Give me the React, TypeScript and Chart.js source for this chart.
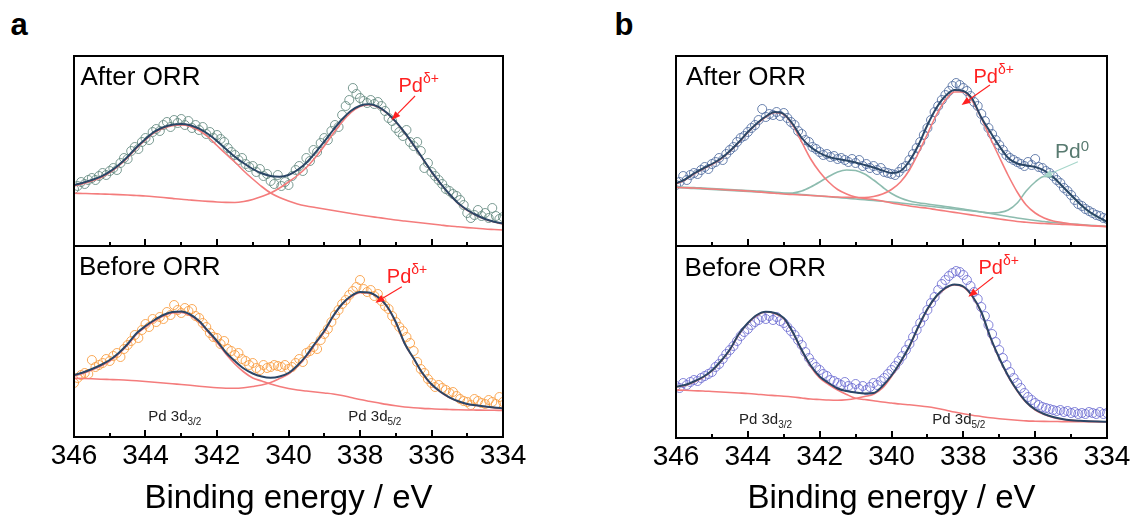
import React, { useEffect, useRef } from 'react';
import { Chart, registerables } from 'chart.js';

Chart.register(...registerables);

const FONT = '"Liberation Sans", Arial, Helvetica, sans-serif';

// ---------- shared x values (binding energy, eV) ----------
const curveEnergy = [
  346, 345.75, 345.5, 345.25, 345, 344.75, 344.5, 344.25, 344, 343.75,
  343.5, 343.25, 343, 342.75, 342.5, 342.25, 342, 341.75, 341.5, 341.25,
  341, 340.75, 340.5, 340.25, 340, 339.75, 339.5, 339.25, 339, 338.75,
  338.5, 338.25, 338, 337.75, 337.5, 337.25, 337, 336.75, 336.5, 336.25,
  336, 335.75, 335.5, 335.25, 335, 334.75, 334.5, 334.25, 334,
];
const scatterEnergy = [
  346.0, 345.9, 345.8, 345.7, 345.6, 345.5, 345.4, 345.3, 345.2, 345.1,
  345.0, 344.9, 344.8, 344.7, 344.6, 344.5, 344.4, 344.3, 344.2, 344.1,
  344.0, 343.9, 343.8, 343.7, 343.6, 343.5, 343.4, 343.3, 343.2, 343.1,
  343.0, 342.9, 342.8, 342.7, 342.6, 342.5, 342.4, 342.3, 342.2, 342.1,
  342.0, 341.9, 341.8, 341.7, 341.6, 341.5, 341.4, 341.3, 341.2, 341.1,
  341.0, 340.9, 340.8, 340.7, 340.6, 340.5, 340.4, 340.3, 340.2, 340.1,
  340.0, 339.9, 339.8, 339.7, 339.6, 339.5, 339.4, 339.3, 339.2, 339.1,
  339.0, 338.9, 338.8, 338.7, 338.6, 338.5, 338.4, 338.3, 338.2, 338.1,
  338.0, 337.9, 337.8, 337.7, 337.6, 337.5, 337.4, 337.3, 337.2, 337.1,
  337.0, 336.9, 336.8, 336.7, 336.6, 336.5, 336.4, 336.3, 336.2, 336.1,
  336.0, 335.9, 335.8, 335.7, 335.6, 335.5, 335.4, 335.3, 335.2, 335.1,
  335.0, 334.9, 334.8, 334.7, 334.6, 334.5, 334.4, 334.3, 334.2, 334.1,
  334.0,
];
const majorTicks = [346, 344, 342, 340, 338, 336, 334];
const minorTicks = [345, 343, 341, 339, 337, 335];

// ---------- panel a, After ORR ----------
const aAfterPoints = [
  57, 60, 64, 62, 66, 68, 66, 70, 73, 71,
  75, 78, 76, 83, 88, 87, 95, 99, 97, 104,
  108, 106, 114, 117, 115, 121, 124, 119, 126, 123,
  127, 121, 125, 118, 121, 116, 119, 112, 114, 108,
  111, 107, 104, 98, 94, 91, 86, 88, 82, 79,
  80, 74, 77, 70, 72, 65, 62, 71, 60, 64,
  61, 70, 76, 80, 75, 88, 85, 96, 94, 103,
  108, 106, 115, 121, 119, 131, 140, 146, 158, 152,
  148, 145, 143, 146, 142, 144, 140, 135, 128, 125,
  118, 114, 110, 116, 104, 100, 104, 95, 78, 83,
  74, 70, 66, 62, 57, 55, 52, 50, 46, 41,
  33, 28, 31, 36, 30, 33, 28, 38, 30, 27,
  29,
];
const aAfterFit = [
  61, 63.3, 66, 69.3, 74.3, 81, 89.3, 98.7, 107, 114.3,
  118.7, 121.3, 122, 120.7, 117.3, 112, 105, 97, 89.3, 82.7,
  77, 72.7, 70, 69.3, 71, 76, 83.3, 93.3, 104.3, 116,
  126.7, 135.3, 140.3, 141.7, 139.3, 133.3, 124.3, 113.3, 101, 87.7,
  74.3, 62.7, 52, 42.7, 36, 31, 27, 24.3, 22.3,
];
const aAfter3d32 = [
  60, 62.3, 65, 68.3, 73.3, 80, 88.3, 97.7, 106, 113.3,
  117.7, 120.3, 121, 119.5, 115.5, 109, 100.5, 92, 84, 75,
  67, 59.5, 53, 48.5, 45, 42, 40, 38.5, 37, 35.5,
  34, 32.5, 31, 29.7, 28.5, 27.3, 26, 25, 24, 23,
  22, 21, 20, 19.2, 18.4, 17.7, 17, 16.5, 16,
];
const aAfter3d52 = [
  52.7, 52.5, 52.3, 52, 51.7, 51.4, 51, 50.5, 50, 49.3,
  48.5, 47.6, 46.7, 46, 45.3, 44.6, 44, 43.6, 43.5, 44.5,
  46.5, 49.5, 53, 58, 64, 70.5, 78.5, 88.5, 100, 112.5,
  124, 133.5, 139.5, 141.3, 139, 133, 124, 113, 100.7, 87.4,
  74, 62.4, 51.7, 42.4, 35.7, 30.7, 26.7, 24, 22,
];

// ---------- panel a, Before ORR ----------
const aBeforePoints = [
  54, 59, 62, 64, 63, 77, 70, 72, 74, 78,
  76, 81, 84, 80, 88, 92, 96, 102, 99, 107,
  113, 110, 118, 115, 120, 118, 125, 122, 132, 127,
  124, 129, 126, 128, 121, 119, 114, 110, 104, 100,
  99, 93, 96, 88, 86, 82, 84, 78, 76, 72,
  74, 69, 67, 72, 69, 70, 72, 71, 70, 72,
  68, 70, 74, 78, 75, 84, 86, 90, 88, 97,
  103, 108, 115, 122, 127, 133, 137, 142, 146, 150,
  157, 148, 145, 147, 141, 143, 136, 131, 128, 121,
  115, 110, 106, 100, 94, 86, 75, 68, 64, 58,
  54, 50, 52, 49, 47, 44, 45, 41, 38, 36,
  35, 32, 38, 36, 34, 33, 37, 35, 33, 40,
  35,
];
const aBeforeFit = [
  62, 64.5, 68, 72, 77, 84, 93, 103.7, 111, 117,
  122, 125, 125.5, 122.5, 116, 106, 96, 84.5, 76, 68.5,
  63.5, 60.5, 59.3, 60.5, 64, 71.5, 81.5, 94, 106, 121,
  133, 141, 145, 144.5, 140, 131, 115, 93.5, 78.7, 63.7,
  52.7, 45.3, 39.7, 35.7, 33, 31.7, 30.5, 29.5, 28.7,
];
const aBefore3d32 = [
  61, 63.5, 67, 71, 76, 83, 92, 102.7, 110, 116,
  121, 124, 124.5, 121.5, 115, 105, 94.5, 83, 73, 65,
  59, 56, 53, 50.5, 48.5, 47, 46, 45, 44, 43,
  41.5, 39.5, 37.5, 35.8, 34.2, 32.6, 31.2, 30, 29.2, 28.6,
  28.2, 27.8, 27.5, 27.2, 27, 26.9, 26.8, 26.7, 26.6,
];
const aBefore3d52 = [
  58.7, 58.5, 58.2, 57.8, 57.5, 57.2, 56.8, 56.2, 55.5, 54.8,
  54, 53.2, 52.5, 51.7, 50.8, 50, 49.3, 48.8, 48.7, 49.3,
  50.5, 52, 54.5, 58.5, 63, 70.5, 80.5, 93, 105, 120.5,
  132.5, 140.2, 144.3, 144, 139.6, 130.5, 114.5, 93, 78.3, 63.3,
  52.3, 45, 39.5, 35.5, 32.8, 31.5, 30.3, 29.3, 28.5,
];

// ---------- panel b, After ORR ----------
const bAfterPoints = [
  61, 64, 70, 66, 71, 73, 72, 76, 79, 77,
  82, 84, 88, 86, 92, 96, 99, 104, 108, 110,
  114, 118, 121, 126, 137, 129, 132, 131, 134, 130,
  133, 128, 124, 121, 115, 112, 106, 104, 99, 97,
  94, 91, 92, 89, 90, 87, 88, 86, 84, 87,
  83, 86, 80, 82, 78, 80, 76, 78, 74, 73,
  72, 71, 74, 78, 80, 86, 92, 98, 104, 111,
  118, 126, 134, 140, 146, 151, 155, 160, 163, 161,
  158, 155, 150, 144, 140, 132, 125, 118, 112, 106,
  101, 96, 91, 88, 86, 84, 82, 80, 84, 81,
  87, 79, 78, 75, 73, 70, 66, 63, 58, 55,
  51, 46, 42, 40, 37, 35, 33, 31, 30, 28,
  27,
];
const bAfterFit = [
  62.7, 66.5, 72.5, 77.5, 82, 87.5, 95, 104, 114, 122.5,
  129.5, 134, 132, 122, 108, 99, 93, 89, 87, 85.5,
  83.5, 81, 78.5, 75.5, 73, 75, 85, 101, 121, 138,
  150, 156, 155, 147, 128.5, 114, 100, 88, 82.5, 80.5,
  79, 75.5, 69, 60, 51, 42, 34.5, 29, 24.3,
];
const bAfterPdd32 = [
  62, 66, 72, 77, 81.5, 87, 94.5, 103.5, 113.5, 122,
  129, 133.5, 131.5, 121, 104, 87, 74, 64, 56.5, 52,
  49, 47.5, 46.5, 45, 43, 41.5, 40, 38.8, 37.7, 36.3,
  35, 33.6, 32.3, 30.9, 29.5, 28.2, 27, 25.7, 24.5, 23.7,
  23, 22.5, 22, 21.6, 21.2, 20.7, 20.3, 19.8, 19.3,
];
const bAfterPdd52 = [
  58.7, 58.3, 58, 57.5, 57, 56.5, 56, 55.5, 55, 54.3,
  53.5, 52.8, 52, 51.5, 51, 50.5, 50, 49.5, 49, 48.7,
  48.5, 48.5, 49.5, 52, 56.5, 64, 76, 93, 112, 131,
  146, 154, 154, 145, 128, 108, 89, 70.5, 54, 41,
  33, 28, 25, 23.5, 22, 21.2, 20.5, 20, 19.5,
];
const bAfterPd0_32 = [
  58.5, 58, 57.5, 57, 56.5, 56, 55.5, 55, 54.5, 54,
  53.5, 53, 52.5, 53, 55, 59, 64, 69.5, 74, 76,
  75.5, 72, 66, 59, 52.5, 48, 45, 43.3, 42, 40.7,
  39.5, 38.2, 37, 35.5, 34, 32.5, 31, 29.5, 28, 26.7,
  25.5, 24.5, 23.5, 22.7, 22, 21.4, 20.8, 20.3, 19.8,
];
const bAfterPd0_52 = [
  59, 58.8, 58.5, 58, 57.5, 57, 56.5, 56, 55.5, 55,
  54.5, 53.8, 53, 52.3, 51.5, 50.8, 50, 49.3, 48.5, 47.8,
  47, 46.3, 45.5, 44.8, 44, 43, 42, 41, 40, 39,
  38, 37, 36, 35, 34, 33, 33.5, 36, 43, 55,
  64, 69.5, 68.5, 60, 50.5, 41.5, 34, 28.7, 24,
];

// ---------- panel b, Before ORR ----------
const bBeforePoints = [
  52, 50, 55, 53, 56, 58, 57, 60, 62, 64,
  66, 71, 74, 79, 84, 88, 92, 97, 102, 106,
  109, 113, 116, 118, 121, 119, 122, 118, 121, 117,
  115, 111, 107, 103, 98, 93, 86, 80, 75, 71,
  68, 64, 62, 58, 57, 55, 53, 56, 52, 50,
  54, 49, 52, 48, 51, 55, 53, 57, 60, 64,
  68, 72, 77, 82, 88, 94, 101, 108, 115, 121,
  128, 135, 141, 148, 154, 158, 162, 165, 167, 166,
  163, 158, 152, 146, 139, 131, 122, 113, 104, 96,
  88, 80, 73, 66, 60, 55, 50, 45, 41, 38,
  35, 33, 31, 30, 29, 28, 27, 28, 26, 27,
  25, 26, 24, 25, 24, 26, 25, 24, 26, 24,
  25,
];
const bBeforeFit = [
  51.3, 53, 56.5, 61, 67.5, 77, 88.5, 104, 115, 123,
  126.3, 125, 120, 106, 88, 72.5, 61.5, 55, 49.5, 47,
  45.5, 44.5, 45, 52, 62.5, 76, 92, 111.5, 129, 142,
  150, 153.5, 151.5, 142, 126, 101, 80, 62, 47.5, 36,
  28.5, 24, 21, 19, 17.8, 17.2, 16.8, 16.5, 16.3,
];
const bBefore3d32 = [
  51, 52.5, 56, 60.5, 67, 76.5, 88, 103.5, 114.5, 122.5,
  126, 124.5, 119.5, 105.5, 87.5, 71.5, 60, 53.5, 48, 43.5,
  39.7, 38.5, 37.3, 36, 35, 34, 33.2, 32.3, 31.3, 29.8,
  28, 26, 24.3, 22.8, 21.5, 20.2, 19.3, 18.5, 17.8, 17.1,
  16.8, 16.6, 16.5, 16.4, 16.3, 16.3, 16.2, 16.2, 16.2,
];
const bBefore3d52 = [
  48, 47.7, 47.3, 47, 46.5, 46, 45.5, 45, 44.5, 43.8,
  43, 42.4, 41.8, 41, 40, 39, 38.5, 38, 37.8, 38.3,
  39.5, 41.5, 43.8, 50, 61.5, 75.5, 91.5, 111, 128.5, 141.5,
  149.5, 153, 151, 141.5, 125.5, 100.5, 79.5, 61.5, 47, 35.5,
  28, 23.5, 20.5, 18.7, 17.6, 17, 16.6, 16.4, 16.2,
];

// ---------- styling ----------
const NAVY = '#2a4666';
const SALMON = '#f47c7c';
const TEAL = '#8dbcaf';
const RED = '#ff2020';
const PD0 = '#587a70';

type Arrow = { from: [number, number]; to: [number, number]; color: string };

const toXY = (xs: number[], ys: number[]) => xs.map((x, i) => ({ x, y: ys[i] }));

const curve = (ys: number[], color: string, width: number) => ({
  data: toXY(curveEnergy, ys),
  borderColor: color,
  borderWidth: width,
  pointRadius: 0,
  showLine: true,
  fill: false,
  cubicInterpolationMode: 'monotone',
});

const dots = (ys: number[], color: string) => ({
  data: toXY(scatterEnergy, ys),
  showLine: false,
  borderColor: color,
  pointRadius: 4.5,
  pointBorderWidth: 1,
  pointBorderColor: color,
  pointBackgroundColor: 'rgba(0,0,0,0)',
});

function framePlugin(arrows: Arrow[]) {
  return {
    id: 'frameTicksArrows',
    afterDatasetsDraw(chart: any) {
      const { ctx, chartArea: a, scales } = chart;
      const xs = scales.x;
      const ys = scales.y;
      ctx.save();
      for (const ar of arrows) {
        const x1 = xs.getPixelForValue(ar.from[0]);
        const y1 = ys.getPixelForValue(ar.from[1]);
        const x2 = xs.getPixelForValue(ar.to[0]);
        const y2 = ys.getPixelForValue(ar.to[1]);
        const ang = Math.atan2(y2 - y1, x2 - x1);
        const hl = 9;
        const hw = 3.5;
        const bx = x2 - hl * Math.cos(ang);
        const by = y2 - hl * Math.sin(ang);
        ctx.strokeStyle = ar.color;
        ctx.fillStyle = ar.color;
        ctx.lineWidth = 1.1;
        ctx.beginPath();
        ctx.moveTo(x1, y1);
        ctx.lineTo(bx, by);
        ctx.stroke();
        ctx.beginPath();
        ctx.moveTo(x2, y2);
        ctx.lineTo(bx + hw * Math.sin(ang), by - hw * Math.cos(ang));
        ctx.lineTo(bx - hw * Math.sin(ang), by + hw * Math.cos(ang));
        ctx.closePath();
        ctx.fill();
      }
      ctx.strokeStyle = '#000';
      ctx.lineWidth = 2;
      const tick = (v: number, len: number) => {
        const px = Math.round(xs.getPixelForValue(v));
        ctx.beginPath();
        ctx.moveTo(px, a.bottom);
        ctx.lineTo(px, a.bottom - len);
        ctx.stroke();
      };
      majorTicks.forEach((v) => tick(v, 7));
      minorTicks.forEach((v) => tick(v, 4));
      ctx.strokeRect(a.left, a.top, a.right - a.left, a.bottom - a.top);
      ctx.restore();
    },
  };
}

type Spec = {
  left: number;
  top: number;
  width: number;
  height: number;
  yMax: number;
  withAxis: boolean;
  datasets: any[];
  arrows: Arrow[];
};

function SubPlot({ spec }: { spec: Spec }) {
  const ref = useRef<HTMLCanvasElement | null>(null);
  const P = 6;
  const side = spec.withAxis ? 44 : P;
  const cLeft = spec.left - side;
  const cTop = spec.top - P;
  const cW = spec.width + 2 * side;
  const cH = spec.withAxis ? 528 - cTop : spec.height + 2 * P;
  const axisH = 528 - (spec.top + spec.height);

  useEffect(() => {
    if (!ref.current) return;
    const xScale: any = {
      type: 'linear',
      min: 334,
      max: 346,
      reverse: true,
      display: spec.withAxis,
      position: 'bottom',
      grid: { display: false, drawTicks: false },
      border: { display: false },
      afterBuildTicks: (s: any) => {
        s.ticks = majorTicks.map((v) => ({ value: v }));
      },
      ticks: {
        autoSkip: false,
        maxRotation: 0,
        padding: 2,
        color: '#000',
        font: { family: FONT, size: 28 },
        callback: (v: any) => String(v),
      },
      title: {
        display: spec.withAxis,
        text: 'Binding energy / eV',
        color: '#000',
        font: { family: FONT, size: 33 },
        padding: { top: 0, bottom: 9 },
      },
    };
    if (spec.withAxis) {
      xScale.afterFit = (s: any) => {
        s.height = axisH;
      };
    }
    const chart = new Chart(ref.current, {
      type: 'line',
      data: { datasets: spec.datasets },
      options: {
        responsive: false,
        animation: false,
        devicePixelRatio: 1,
        events: [],
        layout: { padding: { left: side, right: side, top: P, bottom: spec.withAxis ? 0 : P } },
        plugins: { legend: { display: false }, tooltip: { enabled: false } },
        scales: {
          x: xScale,
          y: { type: 'linear', display: false, min: 0, max: spec.yMax },
        },
      } as any,
      plugins: [framePlugin(spec.arrows)],
    });
    return () => chart.destroy();
  }, []);

  return (
    <canvas
      ref={ref}
      width={cW}
      height={cH}
      style={{ position: 'absolute', left: cLeft, top: cTop, width: cW, height: cH, display: 'block' }}
    />
  );
}

const T = ({ x, y, size, color = '#000', bold = false, children }: any) => (
  <div
    style={{
      position: 'absolute',
      left: x,
      top: y - 0.8465 * size,
      fontSize: size,
      lineHeight: 1,
      color,
      fontWeight: bold ? 700 : 400,
      whiteSpace: 'nowrap',
      fontFamily: FONT,
    }}
  >
    {children}
  </div>
);

const Sup = ({ size, raise, children }: any) => (
  <span style={{ fontSize: size, position: 'relative', top: -raise }}>{children}</span>
);

const specs: Spec[] = [
  {
    left: 74, top: 56, width: 429, height: 190, yMax: 190, withAxis: false,
    datasets: [
      curve(aAfterFit, NAVY, 2),
      curve(aAfter3d32, SALMON, 1.6),
      curve(aAfter3d52, SALMON, 1.6),
      dots(aAfterPoints, 'rgba(100,138,128,0.85)'),
    ],
    arrows: [{ from: [336.46, 150], to: [337.12, 126], color: RED }],
  },
  {
    left: 74, top: 246, width: 429, height: 191, yMax: 191, withAxis: true,
    datasets: [
      curve(aBeforeFit, NAVY, 2),
      curve(aBefore3d32, SALMON, 1.6),
      curve(aBefore3d52, SALMON, 1.6),
      dots(aBeforePoints, 'rgba(250,160,70,0.9)'),
    ],
    arrows: [{ from: [336.83, 150.3], to: [337.57, 134.3], color: RED }],
  },
  {
    left: 676, top: 56, width: 431, height: 190, yMax: 190, withAxis: false,
    datasets: [
      curve(bAfterFit, NAVY, 2),
      curve(bAfterPdd32, SALMON, 1.6),
      curve(bAfterPdd52, SALMON, 1.6),
      curve(bAfterPd0_32, TEAL, 1.6),
      curve(bAfterPd0_52, TEAL, 1.6),
      dots(bAfterPoints, 'rgba(80,108,160,0.85)'),
    ],
    arrows: [
      { from: [337.26, 161], to: [338.05, 141], color: RED },
      { from: [334.81, 84.3], to: [335.78, 69.3], color: '#a6d6ca' },
    ],
  },
  {
    left: 676, top: 246, width: 431, height: 192, yMax: 192, withAxis: true,
    datasets: [
      curve(bBeforeFit, NAVY, 2),
      curve(bBefore3d32, SALMON, 1.6),
      curve(bBefore3d52, SALMON, 1.6),
      dots(bBeforePoints, 'rgba(110,110,210,0.85)'),
    ],
    arrows: [{ from: [337.17, 160.7], to: [337.86, 141.3], color: RED }],
  },
];

export default function App() {
  return (
    <div
      style={{
        position: 'fixed',
        left: 0,
        top: 0,
        width: 1134,
        height: 528,
        background: '#fff',
        overflow: 'hidden',
        fontFamily: FONT,
      }}
    >
      {specs.map((s, i) => (
        <SubPlot key={i} spec={s} />
      ))}

      <T x={10.5} y={35} size={31} bold>a</T>
      <T x={614.5} y={35} size={31} bold>b</T>

      <T x={80.5} y={85} size={26}>After ORR</T>
      <T x={79} y={275} size={26}>Before ORR</T>
      <T x={686} y={85} size={26}>After ORR</T>
      <T x={684.5} y={276} size={26}>Before ORR</T>

      <T x={398.5} y={91.7} size={20} color={RED}>Pd<Sup size={14} raise={9}>δ+</Sup></T>
      <T x={386.8} y={282.7} size={20} color={RED}>Pd<Sup size={14} raise={9}>δ+</Sup></T>
      <T x={973.5} y={83.3} size={20} color={RED}>Pd<Sup size={14} raise={9}>δ+</Sup></T>
      <T x={978.5} y={274.3} size={20} color={RED}>Pd<Sup size={14} raise={9}>δ+</Sup></T>
      <T x={1055} y={158} size={21} color={PD0}>Pd<Sup size={15} raise={7}>0</Sup></T>

      <T x={148.3} y={421} size={15} color="#222">Pd 3d<Sup size={10} raise={-4}>3/2</Sup></T>
      <T x={348.3} y={421} size={15} color="#222">Pd 3d<Sup size={10} raise={-4}>5/2</Sup></T>
      <T x={739} y={423.3} size={15} color="#222">Pd 3d<Sup size={10} raise={-4}>3/2</Sup></T>
      <T x={932.3} y={424} size={15} color="#222">Pd 3d<Sup size={10} raise={-4}>5/2</Sup></T>
    </div>
  );
}
